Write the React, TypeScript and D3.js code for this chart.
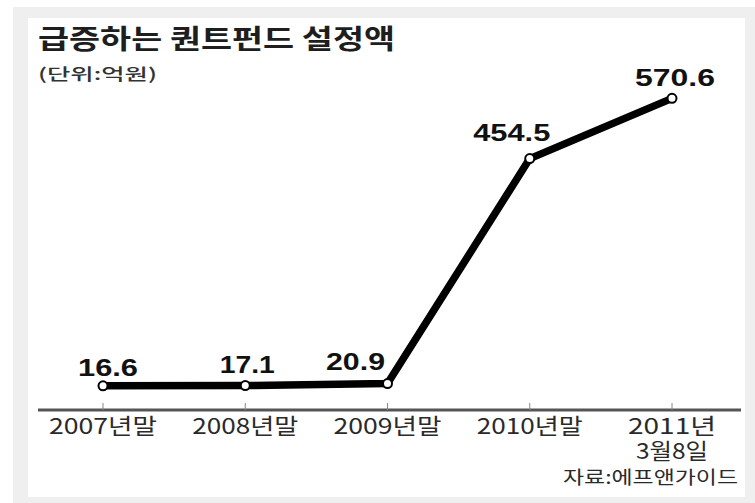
import React, { useEffect } from "react";
import * as d3 from "d3";

const categories = ["2007년말", "2008년말", "2009년말", "2010년말", "2011년 3월8일"];
const categoryLines = [["2007년말"], ["2008년말"], ["2009년말"], ["2010년말"], ["2011년", "3월8일"]];
const values = [16.6, 17.1, 20.9, 454.5, 570.6];
const valueLabels = ["16.6", "17.1", "20.9", "454.5", "570.6"];
const title = "급증하는 퀀트펀드 설정액";
const unitLabel = "(단위:억원)";
const sourceLabel = "자료:에프앤가이드";

// layout-only offsets for the value labels (dx, dy from the point)
const labelDx = [5, 2, -32, -18, 3];
const labelDy = [-10, -13, -14, -18, -12];
const labelWidths = [60, 55, 59, 77, 80];
const axisLabelWidths = [[108], [106], [108], [106], [88, 72]];

const W = 755;
const H = 503;

export default function App() {
  useEffect(() => {
    document.body.style.margin = "0";
  }, []);

  const x = d3.scalePoint<string>().domain(categories).range([103, 672]);
  const y = d3.scaleLinear().domain([0, 600]).range([394.4, 83.1]);

  const line = d3
    .line<number>()
    .x((_, i) => x(categories[i]) as number)
    .y((d) => y(d));

  const axisY = 410;
  const kr = "'Noto Sans CJK KR', 'Noto Sans', sans-serif";
  const latin = "'Liberation Sans', Arial, sans-serif";

  return (
    <svg width={W} height={H} style={{ display: "block" }}>
      <rect x={0} y={0} width={W} height={H} fill="#ffffff" />
      <rect x={13} y={7} width={W - 13} height={H - 7} fill="#efefef" />
      <rect x={28} y={18} width={717} height={479} fill="#ffffff" />

      <text
        x={38}
        y={49}
        fontFamily={kr}
        fontWeight={700}
        fontSize={27}
        fill="#1e1e1e"
        textLength={357}
        lengthAdjust="spacingAndGlyphs"
      >
        {title}
      </text>
      <text
        x={38}
        y={80}
        fontFamily={kr}
        fontWeight={500}
        fontSize={16}
        fill="#333"
        textLength={119}
        lengthAdjust="spacingAndGlyphs"
      >
        {unitLabel}
      </text>

      {/* axis */}
      <line x1={38} x2={741} y1={axisY} y2={axisY} stroke="#555" strokeWidth={3} />
      {categories.map((c) => (
        <line
          key={"t" + c}
          x1={x(c)}
          x2={x(c)}
          y1={axisY - 7}
          y2={axisY}
          stroke="#888"
          strokeWidth={1}
        />
      ))}
      {categoryLines.map((lines, i) =>
        lines.map((t, j) => (
          <text
            key={"l" + i + j}
            x={x(categories[i])}
            y={axisY + 24 + j * 25}
            textAnchor="middle"
            fontFamily={kr}
            fontSize={22}
            fill="#2a2a2a"
            textLength={axisLabelWidths[i][j]}
            lengthAdjust="spacingAndGlyphs"
          >
            {t}
          </text>
        ))
      )}

      {/* series line */}
      <path d={line(values) || ""} fill="none" stroke="#000" strokeWidth={7.5} strokeLinejoin="round" />
      {values.map((v, i) => (
        <circle
          key={"c" + i}
          cx={x(categories[i])}
          cy={y(v)}
          r={4.5}
          fill="#fff"
          stroke="#000"
          strokeWidth={2}
        />
      ))}
      {values.map((v, i) => (
        <text
          key={"v" + i}
          x={(x(categories[i]) as number) + labelDx[i]}
          y={y(v) + labelDy[i]}
          textAnchor="middle"
          fontFamily={latin}
          fontWeight={700}
          fontSize={24}
          fill="#111"
          textLength={labelWidths[i]}
          lengthAdjust="spacingAndGlyphs"
        >
          {valueLabels[i]}
        </text>
      ))}

      <text
        x={738}
        y={484}
        textAnchor="end"
        fontFamily={kr}
        fontSize={18}
        fill="#2a2a2a"
        textLength={175}
        lengthAdjust="spacingAndGlyphs"
      >
        {sourceLabel}
      </text>
    </svg>
  );
}
